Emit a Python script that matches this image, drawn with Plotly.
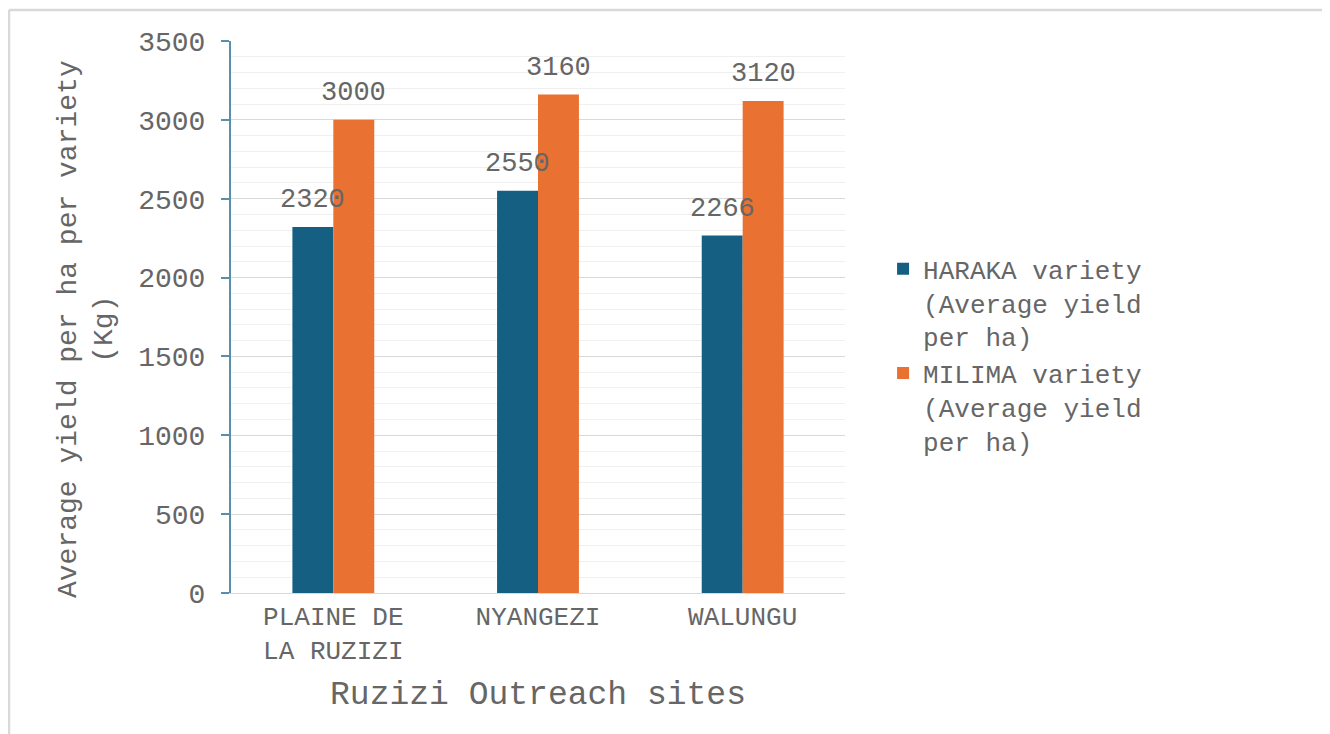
import plotly.graph_objects as go

sites = ["PLAINE DE<br>LA RUZIZI", "NYANGEZI", "WALUNGU"]
haraka = [2320, 2550, 2266]
milima = [3000, 3160, 3120]
series_names = ["HARAKA variety<br>(Average yield<br>per ha)", "MILIMA variety<br>(Average yield<br>per ha)"]
colors = ["#156082", "#E97132"]
y_title = "Average yield per ha per variety<br>(Kg)"
x_title = "Ruzizi Outreach sites"

FONT = "Liberation Mono, Courier New, monospace"
GREY = "#666666"

fig = go.Figure()
for vals, name, col in zip([haraka, milima], series_names, colors):
    fig.add_trace(go.Bar(x=sites, y=vals, name=name, marker_color=col,
                         marker_line_width=0))

# data labels as annotations so they sit on top of neighbouring bars
for vals, shift in zip([haraka, milima], [-20.5, 20.5]):
    for s, v in zip(sites, vals):
        fig.add_annotation(x=s, y=v, xref="x", yref="y", text=str(v),
                           showarrow=False, xshift=shift, yshift=10,
                           yanchor="bottom", xanchor="center",
                           font=dict(family=FONT, size=27, color=GREY))

# y-axis title placed as a rotated annotation
fig.add_annotation(x=(86 - 231) / 614, y=(593 - 329) / 552, xref="paper", yref="paper",
                   text=y_title, textangle=-90, showarrow=False,
                   xanchor="center", yanchor="middle",
                   font=dict(family=FONT, size=28, color=GREY))

fig.update_layout(
    width=1330, height=734,
    margin=dict(l=223, r=493, t=33, b=149),
    paper_bgcolor="white", plot_bgcolor="white",
    barmode="group", bargap=0.6, bargroupgap=0,
    font=dict(family=FONT, color=GREY, size=27),
    legend=dict(x=1.062, y=0.63, xanchor="left", yanchor="top",
                valign="top",
                font=dict(family=FONT, size=26, color=GREY),
                tracegroupgap=4, itemwidth=30),
    showlegend=True,
)
fig.update_yaxes(
    range=[0, 3500], dtick=500, tickformat="d",
    showgrid=True, gridcolor="#d9d9d9", gridwidth=1,
    minor=dict(dtick=100, showgrid=True, gridcolor="#f0f0f0", gridwidth=1),
    showline=True, linecolor="#5a8fab", linewidth=2,
    ticks="outside", ticklen=8, tickcolor="#5a8fab", tickwidth=2,
    ticklabelstandoff=10,
    tickfont=dict(family=FONT, size=28, color=GREY),
    zeroline=False,
)
fig.update_xaxes(
    showline=True, linecolor="#d9d9d9", linewidth=1,
    tickfont=dict(family=FONT, size=26, color=GREY),
    title=dict(text=x_title,
               font=dict(family=FONT, size=33, color=GREY), standoff=14),
)
# outer frame (top and left edges visible in the reference)
fig.add_shape(type="line", xref="paper", yref="paper",
              x0=(9 - 231) / 614, x1=(1340 - 231) / 614,
              y0=(593 - 10) / 552, y1=(593 - 10) / 552,
              line=dict(color="#d9d9d9", width=2.5))
fig.add_shape(type="line", xref="paper", yref="paper",
              x0=(9 - 231) / 614, x1=(9 - 231) / 614,
              y0=(593 - 10) / 552, y1=(593 - 750) / 552,
              line=dict(color="#d9d9d9", width=2.5))

fig.write_html("out.html")
